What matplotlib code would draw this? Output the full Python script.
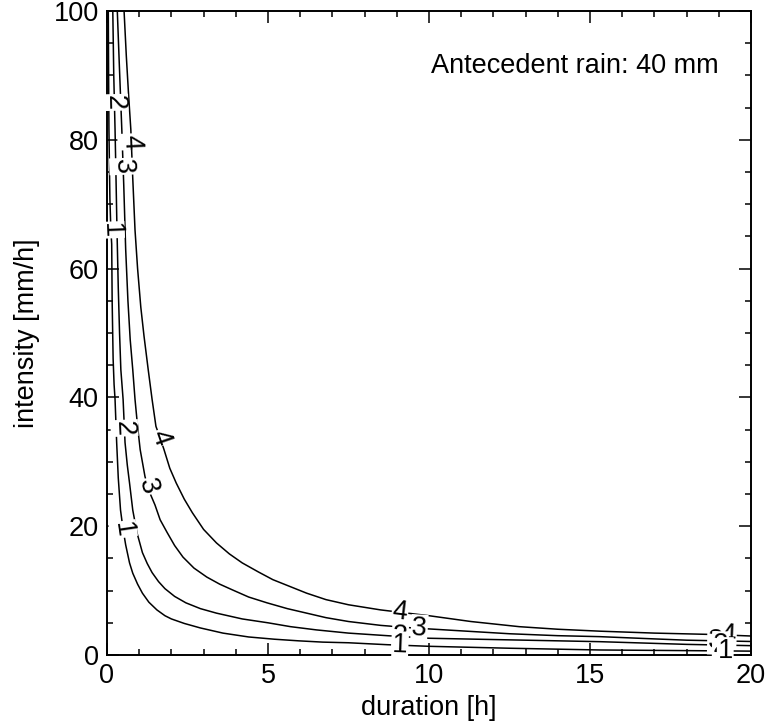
import numpy as np
import matplotlib
matplotlib.use('Agg')
import matplotlib.pyplot as plt
from matplotlib.ticker import MultipleLocator

plt.rcParams['font.family'] = ['Liberation Sans', 'DejaVu Sans']

levels = ['1', '2', '3', '4']

dur1 = [0.04, 0.05, 0.06, 0.09, 0.12, 0.146, 0.16, 0.19, 0.22, 0.25, 0.3, 0.35, 0.42, 0.5, 0.58, 0.7, 0.8,
        0.95, 1.1, 1.3, 1.55, 1.8, 2.0, 2.4, 2.9, 3.6, 4.4, 5.2, 5.95, 6.7, 7.5, 8.7, 10.0, 12.5, 15.3, 18.0, 20.0]
int1 = [100, 90, 81.6, 70.8, 66, 63.8, 55, 46, 42, 39.7, 33, 27.5, 22.5, 19.5, 17.1, 14.3, 12.7,
        11.0, 9.6, 8.2, 7.0, 6.1, 5.6, 4.9, 4.2, 3.4, 2.8, 2.45, 2.2, 2.0, 1.9, 1.6, 1.35, 1.05, 0.78, 0.68, 0.6]

dur2 = [0.18, 0.21, 0.25, 0.28, 0.31, 0.35, 0.39, 0.43, 0.5, 0.56, 0.63, 0.7, 0.8, 0.93, 1.1, 1.25, 1.4, 1.6,
        1.8, 2.1, 2.45, 2.9, 3.4, 4.2, 5.0, 5.7, 6.5, 7.5, 8.7, 10.0, 12.5, 15.3, 18.0, 20.0]
int2 = [100, 90, 81.6, 74, 66, 57, 50, 44.3, 39.7, 33.0, 29.5, 26.7, 22.5, 19.0, 15.9, 14.2, 12.8, 11.4,
        10.3, 9.1, 8.1, 7.2, 6.5, 5.6, 5.0, 4.4, 3.9, 3.4, 3.0, 2.6, 2.35, 2.07, 1.65, 1.45]

dur3 = [0.32, 0.38, 0.46, 0.52, 0.58, 0.65, 0.72, 0.8, 0.87, 0.95, 1.03, 1.18, 1.32, 1.49, 1.65, 1.87, 2.1,
        2.36, 2.7, 3.1, 3.5, 3.9, 4.4, 4.97, 5.6, 6.2, 6.8, 7.5, 8.5, 9.5, 10.5, 12.5, 14.0, 15.3, 17.0, 18.0, 20.0]
int3 = [100, 92, 81.6, 73.0, 63.0, 55, 49, 44.3, 39.7, 35.5, 31.9, 27.7, 25.3, 23.3, 21.0, 19.0, 17.0,
        15.2, 13.5, 12.1, 11.0, 10.1, 9.0, 8.1, 7.2, 6.5, 5.8, 5.2, 4.6, 4.2, 3.9, 3.3, 3.0, 2.85, 2.5, 2.3, 2.1]

dur4 = [0.53, 0.6, 0.67, 0.74, 0.8, 0.87, 0.95, 1.05, 1.15, 1.28, 1.40, 1.52, 1.65, 1.77, 1.95, 2.15, 2.4,
        2.65, 3.0, 3.4, 3.8, 4.2, 4.7, 5.15, 5.7, 6.2, 6.8, 7.5, 8.5, 10.0, 11.3, 12.8, 14.0, 15.3, 17.0, 18.7, 20.0]
int4 = [100, 93, 87, 81.6, 74, 66, 60, 54, 49.5, 44.3, 39.7, 35.5, 33.7, 31.9, 29.0, 26.7, 24.2,
        22.1, 19.5, 17.4, 15.7, 14.3, 12.9, 11.7, 10.6, 9.6, 8.6, 7.8, 7.0, 6.1, 5.2, 4.4, 4.0, 3.7, 3.4, 3.2, 2.95]

# where the contour labels sit (duration along each curve)
label_dur1 = [0.12, 0.5, 9.1, 19.2]
label_dur2 = [0.23, 0.54, 9.1, 19.05]
label_dur3 = [0.5, 1.27, 9.7, 18.9]
label_dur4 = [0.755, 1.65, 9.1, 19.3]

curves = [(dur1, int1, label_dur1), (dur2, int2, label_dur2),
          (dur3, int3, label_dur3), (dur4, int4, label_dur4)]

fs = 19.5
fig = plt.figure(figsize=(7.69, 7.26), dpi=100)
ax = fig.add_axes([107/769, 71/726, 644/769, 644/726])
ax.set_xlim(0, 20)
ax.set_ylim(0, 100)

for (d, i, ld), lev in zip(curves, levels):
    ax.plot(d, i, color='black', lw=1.1, zorder=2)

fig.canvas.draw()
# draw labels from the top level down so the lower ones stay readable
for (d, i, ld), lev in reversed(list(zip(curves, levels))):
    d = np.array(d)
    i = np.array(i)
    for x in ld:
        y = np.interp(x, d, i)
        # local direction of the curve in screen space
        p0 = ax.transData.transform((x * 0.97, np.interp(x * 0.97, d, i)))
        p1 = ax.transData.transform((x * 1.03, np.interp(x * 1.03, d, i)))
        ang = np.degrees(np.arctan2(p1[1] - p0[1], p1[0] - p0[0]))
        ax.text(x, y, lev, fontsize=fs, ha='center', va='center', rotation=ang,
                rotation_mode='anchor', zorder=3, clip_on=False,
                bbox=dict(fc='white', ec='none', pad=0.6))

ax.text(0.95, 0.915, 'Antecedent rain: 40 mm', transform=ax.transAxes,
        ha='right', va='center', fontsize=fs)

ax.xaxis.set_major_locator(MultipleLocator(5))
ax.xaxis.set_minor_locator(MultipleLocator(1))
ax.yaxis.set_major_locator(MultipleLocator(20))
ax.yaxis.set_minor_locator(MultipleLocator(5))
ax.tick_params(which='both', direction='in', top=True, right=True, width=1.1)
ax.tick_params(which='major', length=8.5, labelsize=fs, pad=6)
ax.tick_params(which='minor', length=4.3)
for s in ax.spines.values():
    s.set_linewidth(1.4)

ax.set_xlabel('duration [h]', fontsize=fs, labelpad=4)
ax.set_ylabel('intensity [mm/h]', fontsize=fs, labelpad=10)

fig.savefig('out.png', dpi=100)
